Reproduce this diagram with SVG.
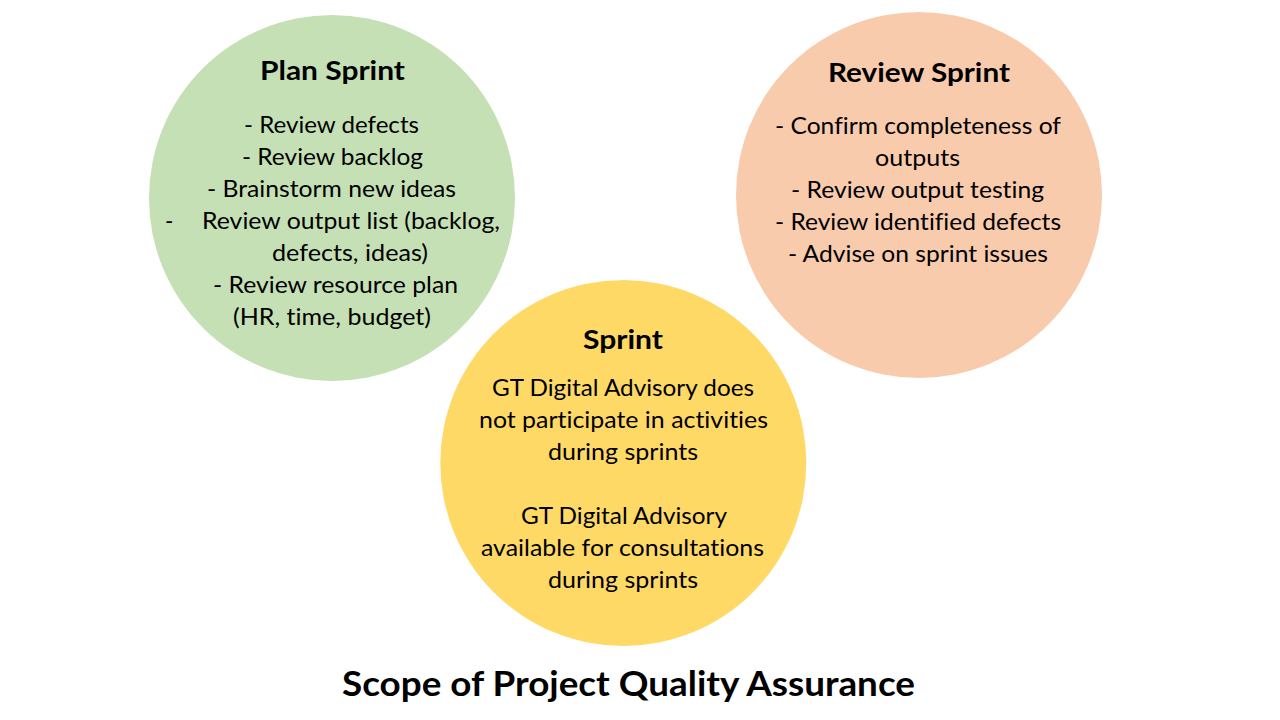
<svg xmlns="http://www.w3.org/2000/svg" width="1280" height="720" viewBox="0 0 1280 720">
<style>
  .t { font-family: Lato, "Open Sans", "Liberation Sans", sans-serif; fill: #000; text-anchor: middle; font-variant-ligatures: none; font-feature-settings: "liga" 0, "clig" 0; }
  .b { font-size: 22.5px; }
  .h { font-size: 26.5px; font-weight: bold; }
  .main { font-size: 33.5px; font-weight: bold; }
  .s { text-anchor: start; }
</style>
<rect width="1280" height="720" fill="#FFFFFF"/>
<g id="plan-sprint">
  <circle cx="332" cy="198" r="183" fill="#C5E0B4"/>
  <text class="t h" x="332.5" y="79.5" textLength="145" lengthAdjust="spacingAndGlyphs">Plan Sprint</text>
  <text class="t b" x="331.5" y="133" textLength="175" lengthAdjust="spacingAndGlyphs">- Review defects</text>
  <text class="t b" x="332.5" y="165" textLength="181" lengthAdjust="spacingAndGlyphs">- Review backlog</text>
  <text class="t b" x="331.5" y="197" textLength="249" lengthAdjust="spacingAndGlyphs">- Brainstorm new ideas</text>
  <text class="t b s" x="165" y="229">-</text>
  <text class="t b s" x="202" y="229" textLength="298" lengthAdjust="spacingAndGlyphs">Review output list (backlog,</text>
  <text class="t b" x="350" y="261" textLength="156" lengthAdjust="spacingAndGlyphs">defects, ideas)</text>
  <text class="t b" x="335.5" y="293" textLength="245" lengthAdjust="spacingAndGlyphs">- Review resource plan</text>
  <text class="t b" x="332" y="325" textLength="198" lengthAdjust="spacingAndGlyphs">(HR, time, budget)</text>
</g>
<g id="review-sprint">
  <circle cx="919" cy="195" r="183" fill="#F8CBAD"/>
  <text class="t h" x="919" y="82" textLength="182" lengthAdjust="spacingAndGlyphs">Review Sprint</text>
  <text class="t b" x="918" y="134" textLength="286" lengthAdjust="spacingAndGlyphs">- Confirm completeness of</text>
  <text class="t b" x="917.5" y="166" textLength="85" lengthAdjust="spacingAndGlyphs">outputs</text>
  <text class="t b" x="917.5" y="198" textLength="253" lengthAdjust="spacingAndGlyphs">- Review output testing</text>
  <text class="t b" x="918" y="230" textLength="286" lengthAdjust="spacingAndGlyphs">- Review identified defects</text>
  <text class="t b" x="918" y="262" textLength="260" lengthAdjust="spacingAndGlyphs">- Advise on sprint issues</text>
</g>
<g id="sprint">
  <circle cx="623.3" cy="463" r="183" fill="#FFD966"/>
  <text class="t h" x="623" y="349" textLength="80" lengthAdjust="spacingAndGlyphs">Sprint</text>
  <text class="t b" x="623" y="396" textLength="262" lengthAdjust="spacingAndGlyphs">GT Digital Advisory does</text>
  <text class="t b" x="623.5" y="428" textLength="289" lengthAdjust="spacingAndGlyphs">not participate in activities</text>
  <text class="t b" x="623" y="460" textLength="150" lengthAdjust="spacingAndGlyphs">during sprints</text>
  <text class="t b" x="624" y="524" textLength="206" lengthAdjust="spacingAndGlyphs">GT Digital Advisory</text>
  <text class="t b" x="622.5" y="556" textLength="283" lengthAdjust="spacingAndGlyphs">available for consultations</text>
  <text class="t b" x="623" y="588" textLength="150" lengthAdjust="spacingAndGlyphs">during sprints</text>
</g>
<g id="connectors"></g>
<g id="caption">
  <text class="t main" x="628.5" y="696" textLength="573" lengthAdjust="spacingAndGlyphs">Scope of Project Quality Assurance</text>
</g>
</svg>
